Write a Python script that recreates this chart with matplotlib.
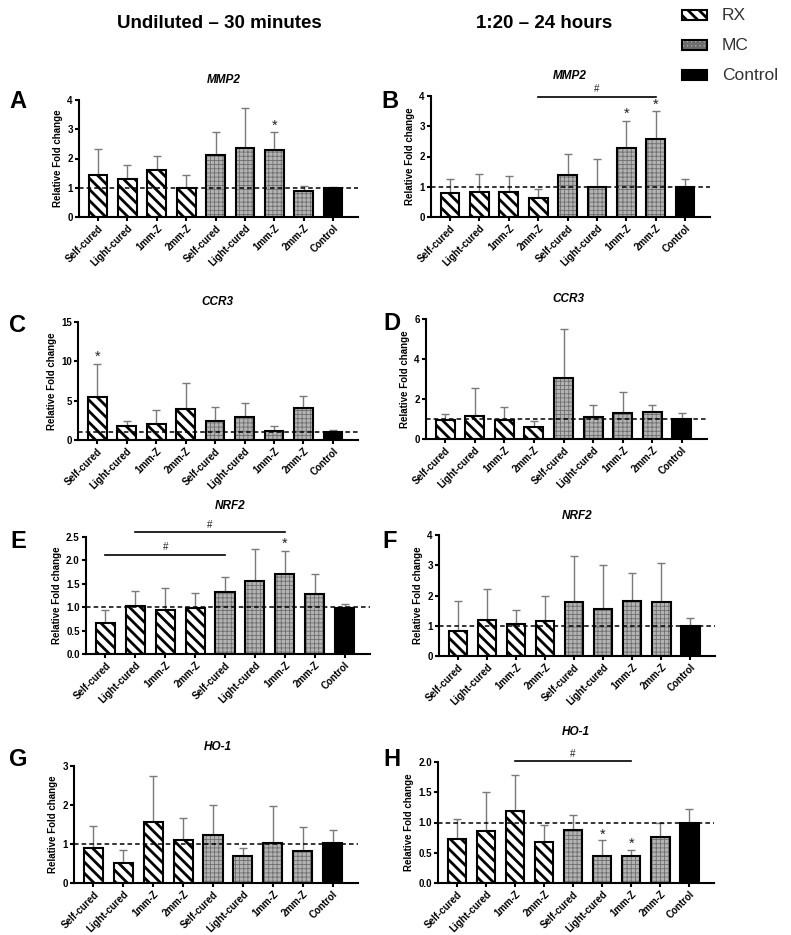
import numpy as np
import matplotlib
matplotlib.use('Agg')
import matplotlib.pyplot as plt
from matplotlib.patches import Rectangle

plt.rcParams['font.family'] = ['Liberation Sans', 'DejaVu Sans']
plt.rcParams['hatch.linewidth'] = 2.0

# 分组和类别
categories = ['Self-cured', 'Light-cured', '1mm-Z', '2mm-Z',
              'Self-cured', 'Light-cured', '1mm-Z', '2mm-Z', 'Control']
groups = ['RX', 'RX', 'RX', 'RX', 'MC', 'MC', 'MC', 'MC', 'Control']

# 各面板数据（均值和标准差）
mmp2_30_mean = [1.42, 1.30, 1.60, 0.98, 2.12, 2.35, 2.30, 0.88, 1.00]
mmp2_30_sd = [0.90, 0.48, 0.50, 0.44, 0.78, 1.38, 0.60, 0.17, 0.03]
mmp2_24_mean = [0.78, 0.82, 0.84, 0.64, 1.40, 1.00, 2.28, 2.59, 1.00]
mmp2_24_sd = [0.48, 0.61, 0.50, 0.28, 0.69, 0.93, 0.91, 0.90, 0.27]
ccr3_30_mean = [5.52, 1.76, 1.98, 3.98, 2.44, 2.98, 1.18, 4.12, 0.98]
ccr3_30_sd = [4.10, 0.62, 1.84, 3.32, 1.72, 1.67, 0.56, 1.45, 0.34]
ccr3_24_mean = [0.94, 1.16, 0.93, 0.61, 3.04, 1.11, 1.31, 1.33, 1.01]
ccr3_24_sd = [0.31, 1.38, 0.68, 0.27, 2.44, 0.57, 1.03, 0.36, 0.27]
nrf2_30_mean = [0.67, 1.03, 0.93, 0.99, 1.33, 1.57, 1.72, 1.29, 0.99]
nrf2_30_sd = [0.27, 0.31, 0.48, 0.32, 0.31, 0.67, 0.49, 0.43, 0.07]
nrf2_24_mean = [0.81, 1.19, 1.05, 1.15, 1.77, 1.56, 1.82, 1.77, 1.00]
nrf2_24_sd = [1.01, 1.01, 0.46, 0.84, 1.53, 1.46, 0.93, 1.31, 0.26]
ho1_30_mean = [0.91, 0.51, 1.57, 1.11, 1.24, 0.69, 1.03, 0.82, 1.03]
ho1_30_sd = [0.54, 0.34, 1.17, 0.56, 0.77, 0.22, 0.94, 0.62, 0.33]
ho1_24_mean = [0.73, 0.86, 1.19, 0.68, 0.88, 0.44, 0.44, 0.76, 1.00]
ho1_24_sd = [0.32, 0.65, 0.59, 0.28, 0.24, 0.27, 0.10, 0.24, 0.23]

# 显著性标记: (柱子序号, y)
stars = {
    'A': [(6, 3.12)],
    'B': [(6, 3.40), (7, 3.72)],
    'C': [(0, 10.6)],
    'E': [(6, 2.36)],
    'H': [(5, 0.80), (6, 0.64)],
}
# 井号横线: (起, 止, 线高, 字高)
brackets = {
    'B': [(3, 7, 3.98, 4.22)],
    'E': [(0, 4, 2.11, 2.28), (1, 6, 2.61, 2.76)],
    'H': [(2, 6, 2.01, 2.13)],
}

W, H = 791, 935


def fx(x):
    return x / W


def fy(y):
    return 1 - y / H


# 面板参数: 字母, 基因, 均值, 标准差, 坐标框(像素), y上限, 刻度, 字母位置, 标题位置
panels = [
    ('A', 'MMP2', mmp2_30_mean, mmp2_30_sd, (79, 100, 358, 217), 4, [0, 1, 2, 3, 4], (18, 102), (224, 80)),
    ('B', 'MMP2', mmp2_24_mean, mmp2_24_sd, (431, 96, 710, 217), 4, [0, 1, 2, 3, 4], (390, 102), (570, 76)),
    ('C', 'CCR3', ccr3_30_mean, ccr3_30_sd, (78, 322, 358, 440), 15, [0, 5, 10, 15], (18, 325), (217, 302)),
    ('D', 'CCR3', ccr3_24_mean, ccr3_24_sd, (426, 319, 707, 439), 6, [0, 2, 4, 6], (392, 323), (568, 299)),
    ('E', 'NRF2', nrf2_30_mean, nrf2_30_sd, (86, 537, 370, 654), 2.5, [0, 0.5, 1.0, 1.5, 2.0, 2.5], (18, 541), (230, 506)),
    ('F', 'NRF2', nrf2_24_mean, nrf2_24_sd, (439, 535, 715, 656), 4, [0, 1, 2, 3, 4], (390, 541), (577, 516)),
    ('G', 'HO-1', ho1_30_mean, ho1_30_sd, (74, 766, 358, 883), 3, [0, 1, 2, 3], (18, 760), (218, 747)),
    ('H', 'HO-1', ho1_24_mean, ho1_24_sd, (438, 762, 714, 883), 2.0, [0, 0.5, 1.0, 1.5, 2.0], (392, 760), (576, 732)),
]

fig = plt.figure(figsize=(W / 100, H / 100), dpi=100)

MC_FACE = '#b4b4b4'
MC_HATCH = '#6e6e6e'


def draw_bar(ax, x, h, group, width=0.64):
    if group == 'RX':
        b = ax.bar(x, h, width, color='white', edgecolor='black', hatch='\\\\\\', linewidth=0, zorder=2)
    elif group == 'MC':
        b = ax.bar(x, h, width, color=MC_FACE, edgecolor=MC_HATCH, hatch='++++', linewidth=0, zorder=2)
        for p in b:
            if hasattr(p, 'set_hatch_linewidth'):
                p.set_hatch_linewidth(0.6)
    else:
        ax.bar(x, h, width, color='black', edgecolor='black', linewidth=0, zorder=2)
    ax.bar(x, h, width, fill=False, edgecolor='black', linewidth=1.5, zorder=3)


for letter, gene, mean, sd, box, ymax, ticks, lpos, tpos in panels:
    x0, y0, x1, y1 = box
    ax = fig.add_axes([fx(x0), fy(y1), fx(x1 - x0), (y1 - y0) / H])
    xs = np.arange(len(categories))
    ax.errorbar(xs, mean, yerr=[np.zeros(len(sd)), sd], fmt='none', ecolor='#7a7a7a',
                elinewidth=1.0, capsize=3, capthick=1.0, zorder=1.5)
    for i in range(len(categories)):
        draw_bar(ax, xs[i], mean[i], groups[i])
    ax.axhline(1.0, color='black', linestyle=(0, (3, 2)), linewidth=1.1, zorder=4)
    ax.set_xlim(-0.65, 8.85)
    ax.set_ylim(0, ymax)
    ax.set_yticks(ticks)
    if isinstance(ticks[1], float):
        ax.set_yticklabels(['%.1f' % t for t in ticks])
    ax.set_xticks(xs)
    ax.set_xticklabels(categories, rotation=45, ha='right', rotation_mode='anchor')
    for lab in ax.get_xticklabels() + ax.get_yticklabels():
        lab.set_fontweight('bold')
        lab.set_fontsize(7)
    ax.tick_params(axis='both', width=1.5, length=3, pad=1.5)
    for s in ['top', 'right']:
        ax.spines[s].set_visible(False)
    for s in ['left', 'bottom']:
        ax.spines[s].set_linewidth(1.5)
    ax.set_ylabel('Relative Fold change', fontsize=7, fontweight='bold', labelpad=3)

    for i, ys in stars.get(letter, []):
        ax.text(i, ys, '*', ha='center', va='center', fontsize=10.5, color='#222222', clip_on=False)
    for a, b, yl, yt in brackets.get(letter, []):
        ax.plot([a, b], [yl, yl], color='black', linewidth=1.2, clip_on=False, zorder=5)
        ax.text((a + b) / 2, yt, '#', ha='center', va='center', fontsize=7, color='#222222', clip_on=False)

    fig.text(fx(lpos[0]), fy(lpos[1]), letter, fontsize=17, fontweight='bold', ha='center', va='center')
    fig.text(fx(tpos[0]), fy(tpos[1]), gene, fontsize=8.5, fontweight='bold', fontstyle='italic',
             ha='center', va='center')

# 列标题
fig.text(fx(219), fy(24), 'Undiluted – 30 minutes', fontsize=13.5, fontweight='bold', ha='center', va='center')
fig.text(fx(544), fy(24), '1:20 – 24 hours', fontsize=13.5, fontweight='bold', ha='center', va='center')

# 图例
legend_items = [('RX', 15), ('MC', 45), ('Control', 75)]
for name, ly in legend_items:
    if name == 'RX':
        kw = dict(facecolor='white', edgecolor='black', hatch='\\\\\\', linewidth=0)
    elif name == 'MC':
        kw = dict(facecolor=MC_FACE, edgecolor=MC_HATCH, hatch='++++', linewidth=0)
    else:
        kw = dict(facecolor='black', edgecolor='black', linewidth=0)
    r = Rectangle((fx(682), fy(ly + 5)), fx(25), 10 / H, transform=fig.transFigure, **kw)
    fig.add_artist(r)
    fig.add_artist(Rectangle((fx(682), fy(ly + 5)), fx(25), 10 / H, transform=fig.transFigure,
                             fill=False, edgecolor='black', linewidth=1.5))
    fig.text(fx(722), fy(ly), name, fontsize=12.5, color='#333333', ha='left', va='center')

fig.savefig('out.png', dpi=100)
